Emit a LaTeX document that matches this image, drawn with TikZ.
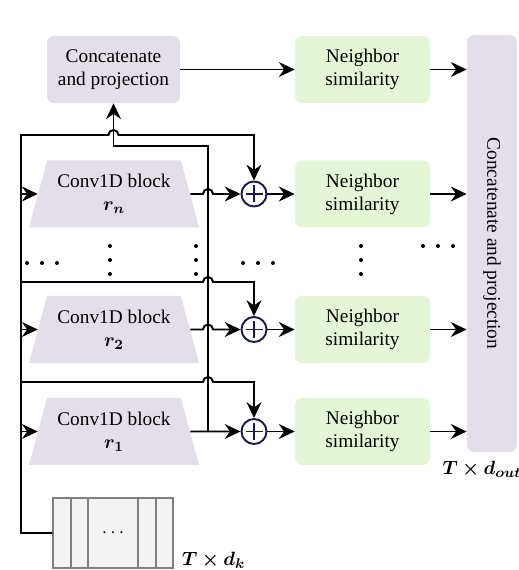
\documentclass[tikz,border=0pt]{standalone}
\usepackage{bm}
\usepackage{fontspec}
\setmainfont{Liberation Serif}
\usepackage{tikz}
\usepackage{color}
\usetikzlibrary{shapes.geometric,arrows.meta}
\definecolor{boxpurple}{RGB}{228,222,232}
\definecolor{boxgreen}{RGB}{229,246,214}
\definecolor{plusnavy}{RGB}{25,25,80}
\definecolor{tensorfill}{RGB}{243,243,243}

\begin{document}
\begin{tikzpicture}[font=\fontsize{11}{13}\selectfont,
wire/.style={line width=1.1pt},
arr/.style={wire,-{Stealth[length=9pt,width=8.5pt,inset=3pt]}},
catbox/.style={fill=boxpurple,rounded corners=4pt,align=center,minimum width=2.66cm,minimum height=1.34cm},
simbox/.style={fill=boxgreen,rounded corners=4pt,align=center,minimum width=2.7cm,minimum height=1.34cm},
convblock/.style={trapezium,trapezium angle=67,trapezium stretches body,fill=boxpurple,align=center,minimum width=3.4cm,minimum height=1.34cm,inner sep=1pt},
addnode/.style={circle,draw=plusnavy,line width=1.1pt,minimum size=0.5cm,inner sep=0pt,
  path picture={\draw[plusnavy,line width=1.1pt] (path picture bounding box.center) ++(-0.17,0) -- ++(0.34,0)
  (path picture bounding box.center) ++(0,-0.17) -- ++(0,0.34);}}]
\useasboundingbox (0,0) rectangle (10.36,11.4);

\node[catbox] (cat) at (2.27,10.01) {Concatenate\\and projection};
\node[simbox] (nt) at (7.25,10.01) {Neighbor\\similarity};
\node[simbox] (nn) at (7.25,7.52) {Neighbor\\similarity};
\node[simbox] (n2) at (7.25,4.81) {Neighbor\\similarity};
\node[simbox] (n1) at (7.25,2.77) {Neighbor\\similarity};
\node[catbox,minimum width=8.34cm,minimum height=1cm,rotate=-90] (catout) at (9.84,6.53) {Concatenate and projection};
\node (outlabel) at (9.64,2.02) {$\bm{T\times d_{out}}$};

\node[convblock] (cn) at (2.28,7.52) {Conv1D block\\$\bm{r_n}$};
\node[convblock] (c2) at (2.28,4.81) {Conv1D block\\$\bm{r_2}$};
\node[convblock] (c1) at (2.28,2.77) {Conv1D block\\$\bm{r_1}$};

\node[addnode] (pn) at (5.08,7.52) {};
\node[addnode] (p2) at (5.08,4.81) {};
\node[addnode] (p1) at (5.08,2.77) {};

\node[draw=gray,line width=0.8pt,fill=tensorfill,minimum width=2.4cm,minimum height=1.4cm,inner sep=0pt] (tensor) at (2.26,0.74) {$\cdots$};
\foreach \x in {1.42,1.76,2.76,3.12} \draw[gray,line width=0.8pt] (\x,0.04) -- (\x,1.44);
\node[anchor=west] (inlabel) at (3.52,0.2) {$\bm{T\times d_k}$};

\coordinate (bus) at (0.42,8.70);
\draw[arr] (tensor.west) -| (bus) -- (2.17,8.70) arc[start angle=180,end angle=0,radius=0.1] -- (5.08,8.70) -- (pn.north);
\foreach \r in {n,2,1} \draw[arr] (bus |- c\r.west) -- (c\r.west);
\draw[arr] (bus |- 0,5.76) -- (4.06,5.76) arc[start angle=180,end angle=0,radius=0.1] -- (5.08,5.76) -- (p2.north);
\draw[arr] (bus |- 0,3.76) -- (4.06,3.76) arc[start angle=180,end angle=0,radius=0.1] -- (5.08,3.76) -- (p1.north);

\draw[arr] (cn.east) -- (4.06,7.52) arc[start angle=180,end angle=0,radius=0.1] -- (pn.west);
\draw[arr] (c2.east) -- (4.06,4.81) arc[start angle=180,end angle=0,radius=0.1] -- (p2.west);
\draw[arr] (c1.east) -- (p1.west);
\draw[arr] (4.16,2.77) -- (4.16,8.48) -| (cat.south);

\draw[arr] (cat.east) -- (nt.west);
\draw[arr] (nt.east) -- (nt.east -| catout.south);
\foreach \r in {n,2,1} {
\draw[arr] (p\r.east) -- (n\r.west);
\draw[arr] (n\r.east) -- (n\r.east -| catout.south);
}

\foreach \x in {0.54,0.84,1.14,4.86,5.16,5.46} \fill (\x,6.14) circle (0.04);
\foreach \x in {2.20,3.92,7.22} \foreach \y in {6.48,6.20,5.92} \fill (\x,\y) circle (0.04);
\foreach \x in {8.46,8.76,9.06} \fill (\x,6.48) circle (0.04);
\end{tikzpicture}
\end{document}
